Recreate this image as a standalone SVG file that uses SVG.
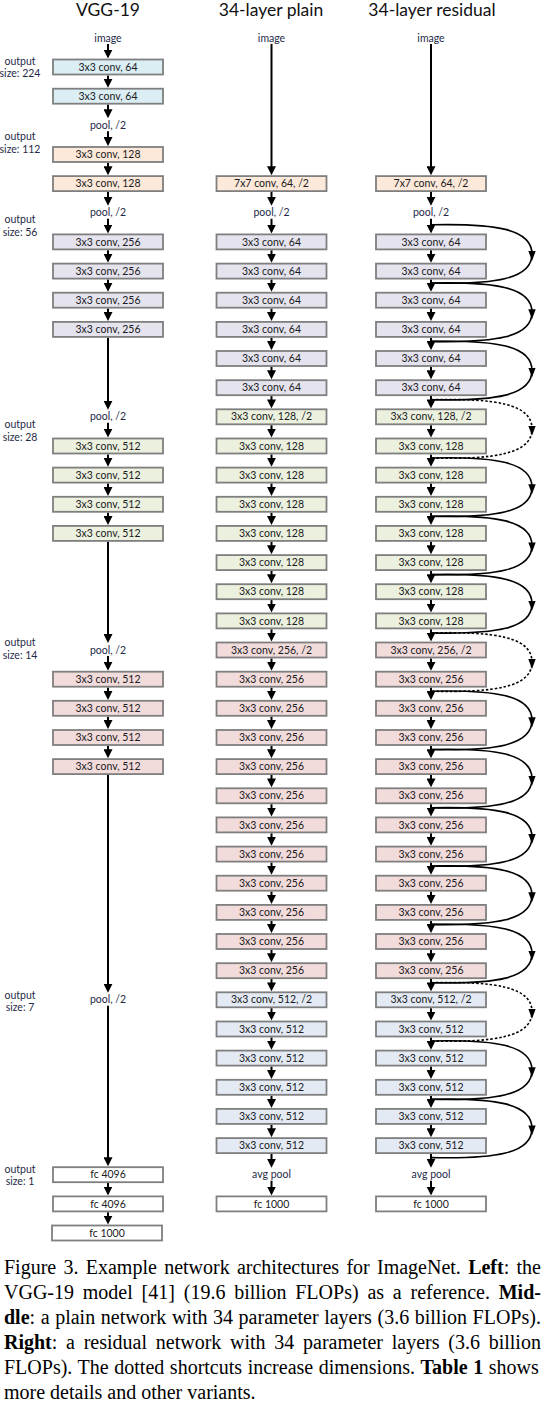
<svg xmlns="http://www.w3.org/2000/svg" width="548" height="1412" viewBox="0 0 548 1412">
<style>
.t{font-family:Lato,'Liberation Sans',sans-serif;font-size:10.5px;fill:#1a1a22;text-anchor:middle}
.p{fill:#1f2a48}
.ttl{font-family:Lato,'Liberation Sans',sans-serif;font-size:17.5px;fill:#111;text-anchor:middle}
.lab{font-family:Lato,'Liberation Sans',sans-serif;font-size:10.5px;fill:#1f2a48;text-anchor:middle}
.b rect{stroke:#7f7f7f;stroke-width:1.8}
.c1{fill:#dbeef4}.c2{fill:#fde9d9}.c3{fill:#e5e3ee}.c4{fill:#ebf1de}.c5{fill:#f2dcdb}.c6{fill:#e4eaf4}.cw{fill:#fff}
.conn path{fill:none;stroke:#000;stroke-width:2}
.conn .m{marker-end:url(#ah)}
.conn .sc{stroke-width:1.6;marker-mid:url(#ah2)}
.conn .dot{stroke-dasharray:2.5 2}
.cap{font-family:'Liberation Serif','Times New Roman',serif;font-size:20px;fill:#000}
.bd{font-weight:bold}
</style>
<defs>
<marker id="ah" viewBox="0 0 9 9" refX="5" refY="4.5" markerWidth="9" markerHeight="9" markerUnits="userSpaceOnUse" orient="auto"><path d="M0,0L9,4.5L0,9z" fill="#000"/></marker>
<marker id="ah2" viewBox="0 0 10 8" refX="3" refY="4" markerWidth="10" markerHeight="8" markerUnits="userSpaceOnUse" orient="auto"><path d="M0,0.3L10,4L0,7.7z" fill="#000"/></marker>
</defs>
<rect width="548" height="1412" fill="#fff"/>

<g id="titles">
<text class="ttl" x="108" y="16">VGG-19</text>
<text class="ttl" x="271" y="16">34-layer plain</text>
<text class="ttl" x="432" y="16">34-layer residual</text>
</g>

<g id="size-labels">
<g id="lab224"><text class="lab" x="20" y="64.5">output</text><text class="lab" x="20" y="77">size: 224</text></g>
<g id="lab112"><text class="lab" x="20" y="140">output</text><text class="lab" x="20" y="152.5">size: 112</text></g>
<g id="lab56"><text class="lab" x="20" y="223">output</text><text class="lab" x="20" y="235.5">size: 56</text></g>
<g id="lab28"><text class="lab" x="20" y="428">output</text><text class="lab" x="20" y="440.5">size: 28</text></g>
<g id="lab14"><text class="lab" x="20" y="646">output</text><text class="lab" x="20" y="658.5">size: 14</text></g>
<g id="lab7"><text class="lab" x="20" y="998.5">output</text><text class="lab" x="20" y="1011">size: 7</text></g>
<g id="lab1"><text class="lab" x="20" y="1172.5">output</text><text class="lab" x="20" y="1185">size: 1</text></g>
</g>

<g id="connectors" class="conn">
<path class="m" d="M108 43.9V54.6"/>
<path class="m" d="M108 75.4V83.8"/>
<path class="m" d="M108 104.6V114.3"/>
<path class="m" d="M108 131.3V142.1"/>
<path class="m" d="M108 162.9V171.2"/>
<path class="m" d="M108 192V201.8"/>
<path class="m" d="M108 218.8V229.5"/>
<path class="m" d="M108 250.3V258.7"/>
<path class="m" d="M108 279.5V287.8"/>
<path class="m" d="M108 308.6V317"/>
<path class="m" d="M108 337.8V405.8"/>
<path class="m" d="M108 422.8V433.6"/>
<path class="m" d="M108 454.4V462.7"/>
<path class="m" d="M108 483.5V491.9"/>
<path class="m" d="M108 512.7V521"/>
<path class="m" d="M108 541.8V639"/>
<path class="m" d="M108 656V666.8"/>
<path class="m" d="M108 687.6V695.9"/>
<path class="m" d="M108 716.7V725.1"/>
<path class="m" d="M108 745.9V754.2"/>
<path class="m" d="M108 775V988.8"/>
<path class="m" d="M108 1005.8V1162.3"/>
<path class="m" d="M108 1183.1V1191.5"/>
<path class="m" d="M108 1212.3V1220.6"/>
<path class="m" d="M271.5 43.9V171.2"/>
<path class="m" d="M271.5 192V201.8"/>
<path class="m" d="M271.5 218.8V229.5"/>
<path class="m" d="M271.5 250.3V258.7"/>
<path class="m" d="M271.5 279.5V287.8"/>
<path class="m" d="M271.5 308.6V317"/>
<path class="m" d="M271.5 337.8V346.1"/>
<path class="m" d="M271.5 366.9V375.3"/>
<path class="m" d="M271.5 396.1V404.4"/>
<path class="m" d="M271.5 425.2V433.6"/>
<path class="m" d="M271.5 454.4V462.7"/>
<path class="m" d="M271.5 483.5V491.9"/>
<path class="m" d="M271.5 512.7V521"/>
<path class="m" d="M271.5 541.8V550.2"/>
<path class="m" d="M271.5 571V579.3"/>
<path class="m" d="M271.5 600.1V608.5"/>
<path class="m" d="M271.5 629.3V637.6"/>
<path class="m" d="M271.5 658.4V666.8"/>
<path class="m" d="M271.5 687.6V695.9"/>
<path class="m" d="M271.5 716.7V725.1"/>
<path class="m" d="M271.5 745.9V754.2"/>
<path class="m" d="M271.5 775V783.4"/>
<path class="m" d="M271.5 804.2V812.5"/>
<path class="m" d="M271.5 833.3V841.7"/>
<path class="m" d="M271.5 862.5V870.8"/>
<path class="m" d="M271.5 891.6V900"/>
<path class="m" d="M271.5 920.8V929.1"/>
<path class="m" d="M271.5 949.9V958.3"/>
<path class="m" d="M271.5 979.1V987.4"/>
<path class="m" d="M271.5 1008.2V1016.6"/>
<path class="m" d="M271.5 1037.4V1045.7"/>
<path class="m" d="M271.5 1066.5V1074.9"/>
<path class="m" d="M271.5 1095.7V1104"/>
<path class="m" d="M271.5 1124.8V1133.2"/>
<path class="m" d="M271.5 1154V1163.7"/>
<path class="m" d="M271.5 1180.7V1191.5"/>
<path class="m" d="M431 43.9V171.2"/>
<path class="m" d="M431 192V201.8"/>
<path class="m" d="M431 218.8V229.5"/>
<path class="m" d="M431 250.3V258.7"/>
<path class="m" d="M431 279.5V287.8"/>
<path class="m" d="M431 308.6V317"/>
<path class="m" d="M431 337.8V346.1"/>
<path class="m" d="M431 366.9V375.3"/>
<path class="m" d="M431 396.1V404.4"/>
<path class="m" d="M431 425.2V433.6"/>
<path class="m" d="M431 454.4V462.7"/>
<path class="m" d="M431 483.5V491.9"/>
<path class="m" d="M431 512.7V521"/>
<path class="m" d="M431 541.8V550.2"/>
<path class="m" d="M431 571V579.3"/>
<path class="m" d="M431 600.1V608.5"/>
<path class="m" d="M431 629.3V637.6"/>
<path class="m" d="M431 658.4V666.8"/>
<path class="m" d="M431 687.6V695.9"/>
<path class="m" d="M431 716.7V725.1"/>
<path class="m" d="M431 745.9V754.2"/>
<path class="m" d="M431 775V783.4"/>
<path class="m" d="M431 804.2V812.5"/>
<path class="m" d="M431 833.3V841.7"/>
<path class="m" d="M431 862.5V870.8"/>
<path class="m" d="M431 891.6V900"/>
<path class="m" d="M431 920.8V929.1"/>
<path class="m" d="M431 949.9V958.3"/>
<path class="m" d="M431 979.1V987.4"/>
<path class="m" d="M431 1008.2V1016.6"/>
<path class="m" d="M431 1037.4V1045.7"/>
<path class="m" d="M431 1066.5V1074.9"/>
<path class="m" d="M431 1095.7V1104"/>
<path class="m" d="M431 1124.8V1133.2"/>
<path class="m" d="M431 1154V1163.7"/>
<path class="m" d="M431 1180.7V1191.5"/>
<path class="sc" d="M431 224.8C495 223.3 532 228.8 532 253.95C532 279.1 495 284.6 431 283.1"/>
<path class="sc" d="M431 283.1C495 281.6 532 287.1 532 312.25C532 337.4 495 342.9 431 341.4"/>
<path class="sc" d="M431 341.4C495 339.9 532 345.4 532 370.55C532 395.7 495 401.2 431 399.7"/>
<path class="sc dot" d="M431 399.7C495 398.2 532 403.7 532 428.85C532 454 495 459.5 431 458"/>
<path class="sc" d="M431 458C495 456.5 532 462 532 487.15C532 512.3 495 517.8 431 516.3"/>
<path class="sc" d="M431 516.3C495 514.8 532 520.3 532 545.45C532 570.6 495 576.1 431 574.6"/>
<path class="sc" d="M431 574.6C495 573.1 532 578.6 532 603.75C532 628.9 495 634.4 431 632.9"/>
<path class="sc dot" d="M431 632.9C495 631.4 532 636.9 532 662.05C532 687.2 495 692.7 431 691.2"/>
<path class="sc" d="M431 691.2C495 689.7 532 695.2 532 720.35C532 745.5 495 751 431 749.5"/>
<path class="sc" d="M431 749.5C495 748 532 753.5 532 778.65C532 803.8 495 809.3 431 807.8"/>
<path class="sc" d="M431 807.8C495 806.3 532 811.8 532 836.95C532 862.1 495 867.6 431 866.1"/>
<path class="sc" d="M431 866.1C495 864.6 532 870.1 532 895.25C532 920.4 495 925.9 431 924.4"/>
<path class="sc" d="M431 924.4C495 922.9 532 928.4 532 953.55C532 978.7 495 984.2 431 982.7"/>
<path class="sc dot" d="M431 982.7C495 981.2 532 986.7 532 1011.85C532 1037 495 1042.5 431 1041"/>
<path class="sc" d="M431 1041C495 1039.5 532 1045 532 1070.15C532 1095.3 495 1100.8 431 1099.3"/>
<path class="sc" d="M431 1099.3C495 1097.8 532 1103.3 532 1128.45C532 1153.6 495 1159.1 431 1157.6"/>
</g>

<g id="vgg">
<g id="v-img" transform="translate(108,37.9)"><text class="t p" y="3.6">image</text></g>
<g id="v-c1" class="b" transform="translate(108,67)"><rect class="c1" x="-55" y="-7.5" width="110" height="15"/><text class="t" y="3.6">3x3 conv, 64</text></g>
<g id="v-c2" class="b" transform="translate(108,96.2)"><rect class="c1" x="-55" y="-7.5" width="110" height="15"/><text class="t" y="3.6">3x3 conv, 64</text></g>
<g id="v-pool1" transform="translate(108,125.3)"><text class="t p" y="3.6">pool, /2</text></g>
<g id="v-c3" class="b" transform="translate(108,154.5)"><rect class="c2" x="-55" y="-7.5" width="110" height="15"/><text class="t" y="3.6">3x3 conv, 128</text></g>
<g id="v-c4" class="b" transform="translate(108,183.6)"><rect class="c2" x="-55" y="-7.5" width="110" height="15"/><text class="t" y="3.6">3x3 conv, 128</text></g>
<g id="v-pool2" transform="translate(108,212.8)"><text class="t p" y="3.6">pool, /2</text></g>
<g id="v-c5" class="b" transform="translate(108,241.9)"><rect class="c3" x="-55" y="-7.5" width="110" height="15"/><text class="t" y="3.6">3x3 conv, 256</text></g>
<g id="v-c6" class="b" transform="translate(108,271.1)"><rect class="c3" x="-55" y="-7.5" width="110" height="15"/><text class="t" y="3.6">3x3 conv, 256</text></g>
<g id="v-c7" class="b" transform="translate(108,300.2)"><rect class="c3" x="-55" y="-7.5" width="110" height="15"/><text class="t" y="3.6">3x3 conv, 256</text></g>
<g id="v-c8" class="b" transform="translate(108,329.4)"><rect class="c3" x="-55" y="-7.5" width="110" height="15"/><text class="t" y="3.6">3x3 conv, 256</text></g>
<g id="v-pool3" transform="translate(108,416.8)"><text class="t p" y="3.6">pool, /2</text></g>
<g id="v-c9" class="b" transform="translate(108,446)"><rect class="c4" x="-55" y="-7.5" width="110" height="15"/><text class="t" y="3.6">3x3 conv, 512</text></g>
<g id="v-c10" class="b" transform="translate(108,475.1)"><rect class="c4" x="-55" y="-7.5" width="110" height="15"/><text class="t" y="3.6">3x3 conv, 512</text></g>
<g id="v-c11" class="b" transform="translate(108,504.3)"><rect class="c4" x="-55" y="-7.5" width="110" height="15"/><text class="t" y="3.6">3x3 conv, 512</text></g>
<g id="v-c12" class="b" transform="translate(108,533.4)"><rect class="c4" x="-55" y="-7.5" width="110" height="15"/><text class="t" y="3.6">3x3 conv, 512</text></g>
<g id="v-pool4" transform="translate(108,650)"><text class="t p" y="3.6">pool, /2</text></g>
<g id="v-c13" class="b" transform="translate(108,679.2)"><rect class="c5" x="-55" y="-7.5" width="110" height="15"/><text class="t" y="3.6">3x3 conv, 512</text></g>
<g id="v-c14" class="b" transform="translate(108,708.3)"><rect class="c5" x="-55" y="-7.5" width="110" height="15"/><text class="t" y="3.6">3x3 conv, 512</text></g>
<g id="v-c15" class="b" transform="translate(108,737.5)"><rect class="c5" x="-55" y="-7.5" width="110" height="15"/><text class="t" y="3.6">3x3 conv, 512</text></g>
<g id="v-c16" class="b" transform="translate(108,766.6)"><rect class="c5" x="-55" y="-7.5" width="110" height="15"/><text class="t" y="3.6">3x3 conv, 512</text></g>
<g id="v-pool5" transform="translate(108,999.8)"><text class="t p" y="3.6">pool, /2</text></g>
<g id="v-fc1" class="b" transform="translate(108,1174.7)"><rect class="cw" x="-55" y="-7.5" width="110" height="15"/><text class="t" y="3.6">fc 4096</text></g>
<g id="v-fc2" class="b" transform="translate(108,1203.9)"><rect class="cw" x="-55" y="-7.5" width="110" height="15"/><text class="t" y="3.6">fc 4096</text></g>
<g id="v-fc3" class="b" transform="translate(107,1233)"><rect class="cw" x="-55" y="-7.5" width="110" height="15"/><text class="t" y="3.6">fc 1000</text></g>
</g>

<g id="plain">
<g id="p-img" transform="translate(271.5,37.9)"><text class="t p" y="3.6">image</text></g>
<g id="p-conv1" class="b" transform="translate(271.5,183.6)"><rect class="c2" x="-55" y="-7.5" width="110" height="15"/><text class="t" y="3.6">7x7 conv, 64, /2</text></g>
<g id="p-pool" transform="translate(271.5,212.8)"><text class="t p" y="3.6">pool, /2</text></g>
<g id="p-2" class="b" transform="translate(271.5,241.9)"><rect class="c3" x="-55" y="-7.5" width="110" height="15"/><text class="t" y="3.6">3x3 conv, 64</text></g>
<g id="p-3" class="b" transform="translate(271.5,271.1)"><rect class="c3" x="-55" y="-7.5" width="110" height="15"/><text class="t" y="3.6">3x3 conv, 64</text></g>
<g id="p-4" class="b" transform="translate(271.5,300.2)"><rect class="c3" x="-55" y="-7.5" width="110" height="15"/><text class="t" y="3.6">3x3 conv, 64</text></g>
<g id="p-5" class="b" transform="translate(271.5,329.4)"><rect class="c3" x="-55" y="-7.5" width="110" height="15"/><text class="t" y="3.6">3x3 conv, 64</text></g>
<g id="p-6" class="b" transform="translate(271.5,358.5)"><rect class="c3" x="-55" y="-7.5" width="110" height="15"/><text class="t" y="3.6">3x3 conv, 64</text></g>
<g id="p-7" class="b" transform="translate(271.5,387.7)"><rect class="c3" x="-55" y="-7.5" width="110" height="15"/><text class="t" y="3.6">3x3 conv, 64</text></g>
<g id="p-8" class="b" transform="translate(271.5,416.8)"><rect class="c4" x="-55" y="-7.5" width="110" height="15"/><text class="t" y="3.6">3x3 conv, 128, /2</text></g>
<g id="p-9" class="b" transform="translate(271.5,446)"><rect class="c4" x="-55" y="-7.5" width="110" height="15"/><text class="t" y="3.6">3x3 conv, 128</text></g>
<g id="p-10" class="b" transform="translate(271.5,475.1)"><rect class="c4" x="-55" y="-7.5" width="110" height="15"/><text class="t" y="3.6">3x3 conv, 128</text></g>
<g id="p-11" class="b" transform="translate(271.5,504.3)"><rect class="c4" x="-55" y="-7.5" width="110" height="15"/><text class="t" y="3.6">3x3 conv, 128</text></g>
<g id="p-12" class="b" transform="translate(271.5,533.4)"><rect class="c4" x="-55" y="-7.5" width="110" height="15"/><text class="t" y="3.6">3x3 conv, 128</text></g>
<g id="p-13" class="b" transform="translate(271.5,562.6)"><rect class="c4" x="-55" y="-7.5" width="110" height="15"/><text class="t" y="3.6">3x3 conv, 128</text></g>
<g id="p-14" class="b" transform="translate(271.5,591.7)"><rect class="c4" x="-55" y="-7.5" width="110" height="15"/><text class="t" y="3.6">3x3 conv, 128</text></g>
<g id="p-15" class="b" transform="translate(271.5,620.9)"><rect class="c4" x="-55" y="-7.5" width="110" height="15"/><text class="t" y="3.6">3x3 conv, 128</text></g>
<g id="p-16" class="b" transform="translate(271.5,650)"><rect class="c5" x="-55" y="-7.5" width="110" height="15"/><text class="t" y="3.6">3x3 conv, 256, /2</text></g>
<g id="p-17" class="b" transform="translate(271.5,679.2)"><rect class="c5" x="-55" y="-7.5" width="110" height="15"/><text class="t" y="3.6">3x3 conv, 256</text></g>
<g id="p-18" class="b" transform="translate(271.5,708.3)"><rect class="c5" x="-55" y="-7.5" width="110" height="15"/><text class="t" y="3.6">3x3 conv, 256</text></g>
<g id="p-19" class="b" transform="translate(271.5,737.5)"><rect class="c5" x="-55" y="-7.5" width="110" height="15"/><text class="t" y="3.6">3x3 conv, 256</text></g>
<g id="p-20" class="b" transform="translate(271.5,766.6)"><rect class="c5" x="-55" y="-7.5" width="110" height="15"/><text class="t" y="3.6">3x3 conv, 256</text></g>
<g id="p-21" class="b" transform="translate(271.5,795.8)"><rect class="c5" x="-55" y="-7.5" width="110" height="15"/><text class="t" y="3.6">3x3 conv, 256</text></g>
<g id="p-22" class="b" transform="translate(271.5,824.9)"><rect class="c5" x="-55" y="-7.5" width="110" height="15"/><text class="t" y="3.6">3x3 conv, 256</text></g>
<g id="p-23" class="b" transform="translate(271.5,854.1)"><rect class="c5" x="-55" y="-7.5" width="110" height="15"/><text class="t" y="3.6">3x3 conv, 256</text></g>
<g id="p-24" class="b" transform="translate(271.5,883.2)"><rect class="c5" x="-55" y="-7.5" width="110" height="15"/><text class="t" y="3.6">3x3 conv, 256</text></g>
<g id="p-25" class="b" transform="translate(271.5,912.4)"><rect class="c5" x="-55" y="-7.5" width="110" height="15"/><text class="t" y="3.6">3x3 conv, 256</text></g>
<g id="p-26" class="b" transform="translate(271.5,941.5)"><rect class="c5" x="-55" y="-7.5" width="110" height="15"/><text class="t" y="3.6">3x3 conv, 256</text></g>
<g id="p-27" class="b" transform="translate(271.5,970.7)"><rect class="c5" x="-55" y="-7.5" width="110" height="15"/><text class="t" y="3.6">3x3 conv, 256</text></g>
<g id="p-28" class="b" transform="translate(271.5,999.8)"><rect class="c6" x="-55" y="-7.5" width="110" height="15"/><text class="t" y="3.6">3x3 conv, 512, /2</text></g>
<g id="p-29" class="b" transform="translate(271.5,1029)"><rect class="c6" x="-55" y="-7.5" width="110" height="15"/><text class="t" y="3.6">3x3 conv, 512</text></g>
<g id="p-30" class="b" transform="translate(271.5,1058.1)"><rect class="c6" x="-55" y="-7.5" width="110" height="15"/><text class="t" y="3.6">3x3 conv, 512</text></g>
<g id="p-31" class="b" transform="translate(271.5,1087.3)"><rect class="c6" x="-55" y="-7.5" width="110" height="15"/><text class="t" y="3.6">3x3 conv, 512</text></g>
<g id="p-32" class="b" transform="translate(271.5,1116.4)"><rect class="c6" x="-55" y="-7.5" width="110" height="15"/><text class="t" y="3.6">3x3 conv, 512</text></g>
<g id="p-33" class="b" transform="translate(271.5,1145.6)"><rect class="c6" x="-55" y="-7.5" width="110" height="15"/><text class="t" y="3.6">3x3 conv, 512</text></g>
<g id="p-avg" transform="translate(271.5,1174.7)"><text class="t p" y="3.6">avg pool</text></g>
<g id="p-fc" class="b" transform="translate(271.5,1203.9)"><rect class="cw" x="-55" y="-7.5" width="110" height="15"/><text class="t" y="3.6">fc 1000</text></g>
</g>

<g id="residual">
<g id="r-img" transform="translate(431,37.9)"><text class="t p" y="3.6">image</text></g>
<g id="r-conv1" class="b" transform="translate(431,183.6)"><rect class="c2" x="-55" y="-7.5" width="110" height="15"/><text class="t" y="3.6">7x7 conv, 64, /2</text></g>
<g id="r-pool" transform="translate(431,212.8)"><text class="t p" y="3.6">pool, /2</text></g>
<g id="r-2" class="b" transform="translate(431,241.9)"><rect class="c3" x="-55" y="-7.5" width="110" height="15"/><text class="t" y="3.6">3x3 conv, 64</text></g>
<g id="r-3" class="b" transform="translate(431,271.1)"><rect class="c3" x="-55" y="-7.5" width="110" height="15"/><text class="t" y="3.6">3x3 conv, 64</text></g>
<g id="r-4" class="b" transform="translate(431,300.2)"><rect class="c3" x="-55" y="-7.5" width="110" height="15"/><text class="t" y="3.6">3x3 conv, 64</text></g>
<g id="r-5" class="b" transform="translate(431,329.4)"><rect class="c3" x="-55" y="-7.5" width="110" height="15"/><text class="t" y="3.6">3x3 conv, 64</text></g>
<g id="r-6" class="b" transform="translate(431,358.5)"><rect class="c3" x="-55" y="-7.5" width="110" height="15"/><text class="t" y="3.6">3x3 conv, 64</text></g>
<g id="r-7" class="b" transform="translate(431,387.7)"><rect class="c3" x="-55" y="-7.5" width="110" height="15"/><text class="t" y="3.6">3x3 conv, 64</text></g>
<g id="r-8" class="b" transform="translate(431,416.8)"><rect class="c4" x="-55" y="-7.5" width="110" height="15"/><text class="t" y="3.6">3x3 conv, 128, /2</text></g>
<g id="r-9" class="b" transform="translate(431,446)"><rect class="c4" x="-55" y="-7.5" width="110" height="15"/><text class="t" y="3.6">3x3 conv, 128</text></g>
<g id="r-10" class="b" transform="translate(431,475.1)"><rect class="c4" x="-55" y="-7.5" width="110" height="15"/><text class="t" y="3.6">3x3 conv, 128</text></g>
<g id="r-11" class="b" transform="translate(431,504.3)"><rect class="c4" x="-55" y="-7.5" width="110" height="15"/><text class="t" y="3.6">3x3 conv, 128</text></g>
<g id="r-12" class="b" transform="translate(431,533.4)"><rect class="c4" x="-55" y="-7.5" width="110" height="15"/><text class="t" y="3.6">3x3 conv, 128</text></g>
<g id="r-13" class="b" transform="translate(431,562.6)"><rect class="c4" x="-55" y="-7.5" width="110" height="15"/><text class="t" y="3.6">3x3 conv, 128</text></g>
<g id="r-14" class="b" transform="translate(431,591.7)"><rect class="c4" x="-55" y="-7.5" width="110" height="15"/><text class="t" y="3.6">3x3 conv, 128</text></g>
<g id="r-15" class="b" transform="translate(431,620.9)"><rect class="c4" x="-55" y="-7.5" width="110" height="15"/><text class="t" y="3.6">3x3 conv, 128</text></g>
<g id="r-16" class="b" transform="translate(431,650)"><rect class="c5" x="-55" y="-7.5" width="110" height="15"/><text class="t" y="3.6">3x3 conv, 256, /2</text></g>
<g id="r-17" class="b" transform="translate(431,679.2)"><rect class="c5" x="-55" y="-7.5" width="110" height="15"/><text class="t" y="3.6">3x3 conv, 256</text></g>
<g id="r-18" class="b" transform="translate(431,708.3)"><rect class="c5" x="-55" y="-7.5" width="110" height="15"/><text class="t" y="3.6">3x3 conv, 256</text></g>
<g id="r-19" class="b" transform="translate(431,737.5)"><rect class="c5" x="-55" y="-7.5" width="110" height="15"/><text class="t" y="3.6">3x3 conv, 256</text></g>
<g id="r-20" class="b" transform="translate(431,766.6)"><rect class="c5" x="-55" y="-7.5" width="110" height="15"/><text class="t" y="3.6">3x3 conv, 256</text></g>
<g id="r-21" class="b" transform="translate(431,795.8)"><rect class="c5" x="-55" y="-7.5" width="110" height="15"/><text class="t" y="3.6">3x3 conv, 256</text></g>
<g id="r-22" class="b" transform="translate(431,824.9)"><rect class="c5" x="-55" y="-7.5" width="110" height="15"/><text class="t" y="3.6">3x3 conv, 256</text></g>
<g id="r-23" class="b" transform="translate(431,854.1)"><rect class="c5" x="-55" y="-7.5" width="110" height="15"/><text class="t" y="3.6">3x3 conv, 256</text></g>
<g id="r-24" class="b" transform="translate(431,883.2)"><rect class="c5" x="-55" y="-7.5" width="110" height="15"/><text class="t" y="3.6">3x3 conv, 256</text></g>
<g id="r-25" class="b" transform="translate(431,912.4)"><rect class="c5" x="-55" y="-7.5" width="110" height="15"/><text class="t" y="3.6">3x3 conv, 256</text></g>
<g id="r-26" class="b" transform="translate(431,941.5)"><rect class="c5" x="-55" y="-7.5" width="110" height="15"/><text class="t" y="3.6">3x3 conv, 256</text></g>
<g id="r-27" class="b" transform="translate(431,970.7)"><rect class="c5" x="-55" y="-7.5" width="110" height="15"/><text class="t" y="3.6">3x3 conv, 256</text></g>
<g id="r-28" class="b" transform="translate(431,999.8)"><rect class="c6" x="-55" y="-7.5" width="110" height="15"/><text class="t" y="3.6">3x3 conv, 512, /2</text></g>
<g id="r-29" class="b" transform="translate(431,1029)"><rect class="c6" x="-55" y="-7.5" width="110" height="15"/><text class="t" y="3.6">3x3 conv, 512</text></g>
<g id="r-30" class="b" transform="translate(431,1058.1)"><rect class="c6" x="-55" y="-7.5" width="110" height="15"/><text class="t" y="3.6">3x3 conv, 512</text></g>
<g id="r-31" class="b" transform="translate(431,1087.3)"><rect class="c6" x="-55" y="-7.5" width="110" height="15"/><text class="t" y="3.6">3x3 conv, 512</text></g>
<g id="r-32" class="b" transform="translate(431,1116.4)"><rect class="c6" x="-55" y="-7.5" width="110" height="15"/><text class="t" y="3.6">3x3 conv, 512</text></g>
<g id="r-33" class="b" transform="translate(431,1145.6)"><rect class="c6" x="-55" y="-7.5" width="110" height="15"/><text class="t" y="3.6">3x3 conv, 512</text></g>
<g id="r-avg" transform="translate(431,1174.7)"><text class="t p" y="3.6">avg pool</text></g>
<g id="r-fc" class="b" transform="translate(431,1203.9)"><rect class="cw" x="-55" y="-7.5" width="110" height="15"/><text class="t" y="3.6">fc 1000</text></g>
</g>

<g id="caption" class="cap">
<text x="4" y="1273.5" word-spacing="2.28">Figure 3. Example network architectures for ImageNet. <tspan class="bd">Left</tspan>: the</text>
<text x="4" y="1298.6" word-spacing="3.81">VGG-19 model [41] (19.6 billion FLOPs) as a reference. <tspan class="bd">Mid-</tspan></text>
<text x="4" y="1323.7" word-spacing="0.59"><tspan class="bd">dle</tspan>: a plain network with 34 parameter layers (3.6 billion FLOPs).</text>
<text x="4" y="1348.8" word-spacing="3.74"><tspan class="bd">Right</tspan>: a residual network with 34 parameter layers (3.6 billion</text>
<text x="4" y="1373.9" word-spacing="0.6">FLOPs). The dotted shortcuts increase dimensions. <tspan class="bd">Table 1</tspan> shows</text>
<text x="4" y="1399">more details and other variants.</text>
</g>
</svg>
